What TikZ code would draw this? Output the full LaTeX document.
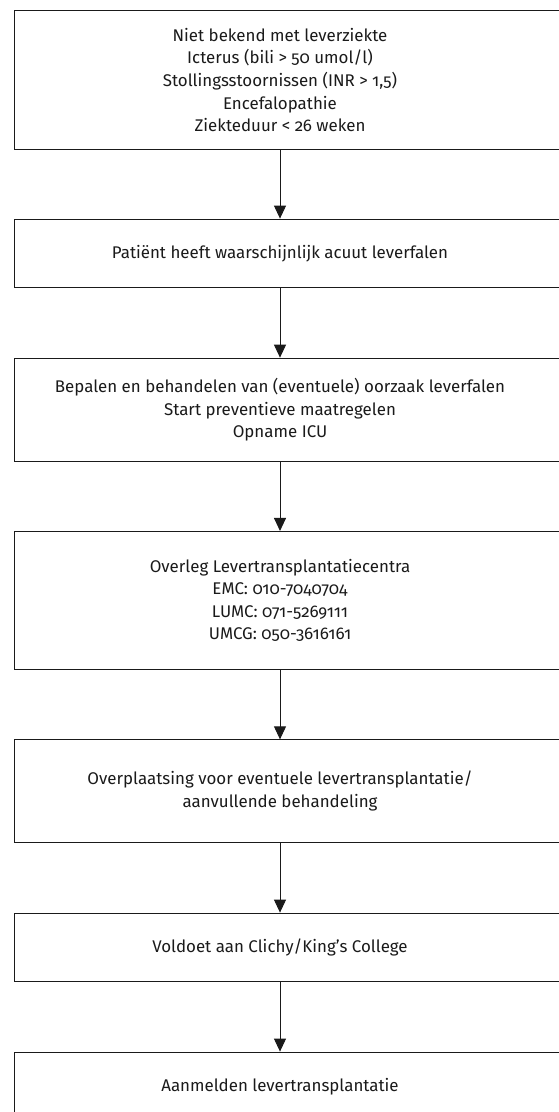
\documentclass[tikz,border=0pt]{standalone}
\usepackage{fontspec}
\setmainfont{Fira Sans}[Numbers=OldStyle]
\usetikzlibrary{arrows.meta}
\definecolor{ink}{HTML}{1A1A1A}
\begin{document}
\begin{tikzpicture}[x=1pt,y=-1pt,
  txt/.style={minimum width=530pt, inner sep=0pt, align=center, text=ink,
    font=\fontsize{16.9}{22.6}\selectfont},
  boxline/.style={draw=ink, line width=1pt},
  arr/.style={draw=ink, line width=1pt, -{Triangle[width=12pt,length=13pt]}, shorten >=0.5pt}
]
\useasboundingbox (0,0) rectangle (559,1112);
\clip (0,0) rectangle (559,1112);
\node[txt, minimum height=138pt] (n1) at (280,80) {Niet bekend met leverziekte\\Icterus (bili > 50 umol/l)\\Stollingsstoornissen (INR > 1,5)\\Encefalopathie\\Ziekteduur < 26 weken};
\node[txt, minimum height=68.4pt] (n2) at (280,253.5) {Patiënt heeft waarschijnlijk acuut leverfalen};
\node[txt, minimum height=102.7pt] (n3) at (280,409.7) {Bepalen en behandelen van (eventuele) oorzaak leverfalen\\Start preventieve maatregelen\\Opname ICU};
\node[txt, minimum height=137.3pt] (n4) at (280,600.3) {Overleg Levertransplantatiecentra\\EMC: 010-7040704\\LUMC: 071-5269111\\UMCG: 050-3616161};
\node[txt, minimum height=102.3pt] (n5) at (280,791.2) {Overplaatsing voor eventuele levertransplantatie/\\aanvullende behandeling};
\node[txt, minimum height=68.4pt] (n6) at (280,947.5) {Voldoet aan Clichy/King’s College};
\node[txt, minimum height=68.4pt] (n7) at (280,1086.5) {Aanmelden levertransplantatie};
\foreach \n in {n1,n2,n3,n4,n5,n6,n7}
  \draw[boxline] (\n.north west) rectangle ([xshift=40pt]\n.south east);
\draw[arr] (n1.south) -- (n2.north);
\draw[arr] (n2.south) -- (n3.north);
\draw[arr] (n3.south) -- (n4.north);
\draw[arr] (n4.south) -- (n5.north);
\draw[arr] (n5.south) -- (n6.north);
\draw[arr] (n6.south) -- (n7.north);
\end{tikzpicture}
\end{document}
